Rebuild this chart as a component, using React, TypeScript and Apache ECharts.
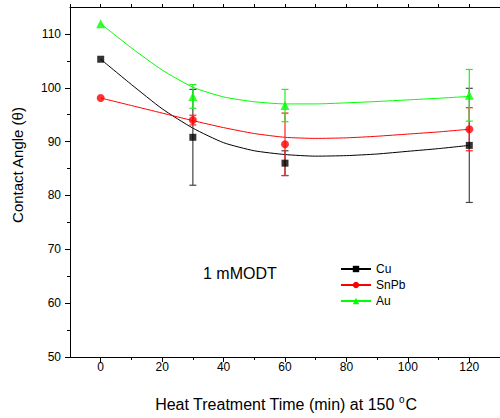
import React, { useEffect, useRef } from "react";
import * as echarts from "echarts";

const times = [0, 30, 60, 120];
const cuValues = [105.3, 90.8, 86.0, 89.3];
const cuErr = [0, 8.9, 2.3, 10.6];
const snpbValues = [98.1, 94.0, 89.5, 92.3];
const snpbErr = [0, 0.9, 5.8, 4.0];
const auValues = [111.9, 98.4, 96.7, 98.6];
const auErr = [0, 2.2, 3.0, 4.8];

const fitTimes = [0, 10, 20, 30, 40, 50, 60, 70, 80, 90, 100, 110, 120];
const cuFit = [105.3, 100.6, 96.1, 92.5, 89.8, 88.3, 87.6, 87.3, 87.4, 87.7, 88.2, 88.7, 89.3];
const snpbFit = [98.1, 96.7, 95.3, 93.9, 92.6, 91.5, 90.8, 90.6, 90.7, 91.0, 91.4, 91.8, 92.3];
const auFit = [111.9, 107.4, 103.3, 100.1, 98.3, 97.4, 97.0, 97.0, 97.2, 97.45, 97.75, 98.05, 98.4];

const xMajorTicks = [0, 20, 40, 60, 80, 100, 120];
const xMinorTicks = [10, 30, 50, 70, 90, 110];
const xTopTicks = [-10, 0, 10, 20, 30, 40, 50, 60, 70, 80, 90, 100, 110, 120, 130];
const yMajorTicks = [50, 60, 70, 80, 90, 100, 110];
const yMinorTicks = [55, 65, 75, 85, 95, 105];

const FONT = "Liberation Sans, Arial, sans-serif";

type SeriesDef = {
  name: string;
  color: string;
  errColor: string;
  symbol: string;
  size: number;
  values: number[];
  errs: number[];
  fit: number[];
};

const defs: SeriesDef[] = [
  { name: "Cu", color: "#000000", errColor: "#444444", symbol: "rect", size: 7, values: cuValues, errs: cuErr, fit: cuFit },
  { name: "SnPb", color: "#ff0000", errColor: "#ff2020", symbol: "circle", size: 8, values: snpbValues, errs: snpbErr, fit: snpbFit },
  { name: "Au", color: "#00ff00", errColor: "#22ee22", symbol: "triangle", size: 9, values: auValues, errs: auErr, fit: auFit },
];

export default function App() {
  const ref = useRef<HTMLDivElement>(null);
  useEffect(() => {
    if (!ref.current) return;
    const chart = echarts.init(ref.current, null, { renderer: "svg" });

    const series: any[] = [];
    defs.forEach((d) => {
      series.push({
        name: d.name,
        type: "line",
        xAxisIndex: 0,
        yAxisIndex: 0,
        data: fitTimes.map((t, i) => [t, d.fit[i]]),
        smooth: 0.2,
        showSymbol: false,
        symbol: d.symbol,
        symbolSize: d.size,
        lineStyle: { color: d.color, width: 1 },
        itemStyle: { color: d.color },
        z: 2,
      });
    });
    defs.forEach((d) => {
      series.push({
        name: d.name + " err",
        type: "custom",
        xAxisIndex: 0,
        yAxisIndex: 0,
        data: times.map((t, i) => [t, d.values[i], d.errs[i]]),
        encode: { x: 0, y: 1 },
        z: 3,
        renderItem: (params: any, api: any) => {
          const x = api.value(0);
          const y = api.value(1);
          const e = api.value(2);
          if (!e) return null;
          const top = api.coord([x, y + e]);
          const bot = api.coord([x, y - e]);
          const w = 3.5;
          const st = { stroke: d.errColor, lineWidth: 1.2 };
          return {
            type: "group",
            children: [
              { type: "line", shape: { x1: top[0], y1: top[1], x2: bot[0], y2: bot[1] }, style: st },
              { type: "line", shape: { x1: top[0] - w, y1: top[1], x2: top[0] + w, y2: top[1] }, style: st },
              { type: "line", shape: { x1: bot[0] - w, y1: bot[1], x2: bot[0] + w, y2: bot[1] }, style: st },
            ],
          };
        },
      });
    });
    defs.forEach((d) => {
      series.push({
        name: d.name + " pts",
        type: "scatter",
        xAxisIndex: 0,
        yAxisIndex: 0,
        data: times.map((t, i) => [t, d.values[i]]),
        symbol: d.symbol,
        symbolSize: d.size,
        itemStyle: { color: d.color },
        z: 4,
      });
    });

    const axisLineStyle = { color: "#000", width: 1 };

    chart.setOption({
      animation: false,
      grid: { left: 70, top: 7, width: 432, height: 350, containLabel: false },
      xAxis: [
        {
          type: "value",
          position: "bottom",
          min: -10,
          max: 130,
          axisLine: { show: true, onZero: false, lineStyle: axisLineStyle },
          axisTick: { show: true, inside: false, length: 5, customValues: xMajorTicks, lineStyle: axisLineStyle },
          axisLabel: { show: true, customValues: xMajorTicks, fontSize: 12, color: "#000", fontFamily: FONT, margin: 4 },
          splitLine: { show: false },
        },
        {
          type: "value",
          position: "bottom",
          min: -10,
          max: 130,
          axisLine: { show: false, onZero: false },
          axisTick: { show: true, inside: false, length: 3, customValues: xMinorTicks, lineStyle: axisLineStyle },
          axisLabel: { show: false },
          splitLine: { show: false },
        },
        {
          type: "value",
          position: "top",
          min: -10,
          max: 130,
          axisLine: { show: true, onZero: false, lineStyle: axisLineStyle },
          axisTick: { show: true, inside: false, length: 3, customValues: xTopTicks, lineStyle: axisLineStyle },
          axisLabel: { show: false },
          splitLine: { show: false },
        },
      ],
      yAxis: [
        {
          type: "value",
          position: "left",
          min: 50,
          max: 115,
          axisLine: { show: true, onZero: false, lineStyle: axisLineStyle },
          axisTick: { show: true, inside: false, length: 5, customValues: yMajorTicks, lineStyle: axisLineStyle },
          axisLabel: { show: true, customValues: yMajorTicks, fontSize: 12, color: "#000", fontFamily: FONT, margin: 9 },
          splitLine: { show: false },
        },
        {
          type: "value",
          position: "left",
          min: 50,
          max: 115,
          axisLine: { show: false, onZero: false },
          axisTick: { show: true, inside: false, length: 3, customValues: yMinorTicks, lineStyle: axisLineStyle },
          axisLabel: { show: false },
          splitLine: { show: false },
        },
      ],
      legend: {
        data: defs.map((d) => d.name),
        orient: "vertical",
        left: 335,
        top: 258,
        itemWidth: 30,
        itemHeight: 8,
        itemGap: 4,
        textStyle: { fontSize: 12, color: "#000", fontFamily: FONT },
      },
      graphic: [
        {
          type: "text",
          x: 17,
          y: 165,
          rotation: Math.PI / 2,
          style: {
            text: "Contact Angle (θ)",
            fontSize: 15,
            fontFamily: FONT,
            fill: "#000",
            align: "center",
            verticalAlign: "middle",
          },
        },
        {
          type: "text",
          x: 286,
          y: 404,
          style: {
            text: "Heat Treatment Time (min) at 150 {sup|o}C",
            fontSize: 16,
            fontFamily: FONT,
            fill: "#000",
            align: "center",
            verticalAlign: "middle",
            rich: {
              sup: { fontSize: 10, fontFamily: FONT, fill: "#000", padding: [0, 1, 9, 0] },
            },
          },
        },
        {
          type: "text",
          x: 203,
          y: 273,
          style: {
            text: "1 mMODT",
            fontSize: 16,
            fontFamily: FONT,
            fill: "#000",
            align: "left",
            verticalAlign: "middle",
          },
        },
      ],
      series,
    });
    return () => chart.dispose();
  }, []);

  return (
    <div
      ref={ref}
      style={{ position: "absolute", left: 0, top: 0, width: 500, height: 418, background: "#fff" }}
    />
  );
}
